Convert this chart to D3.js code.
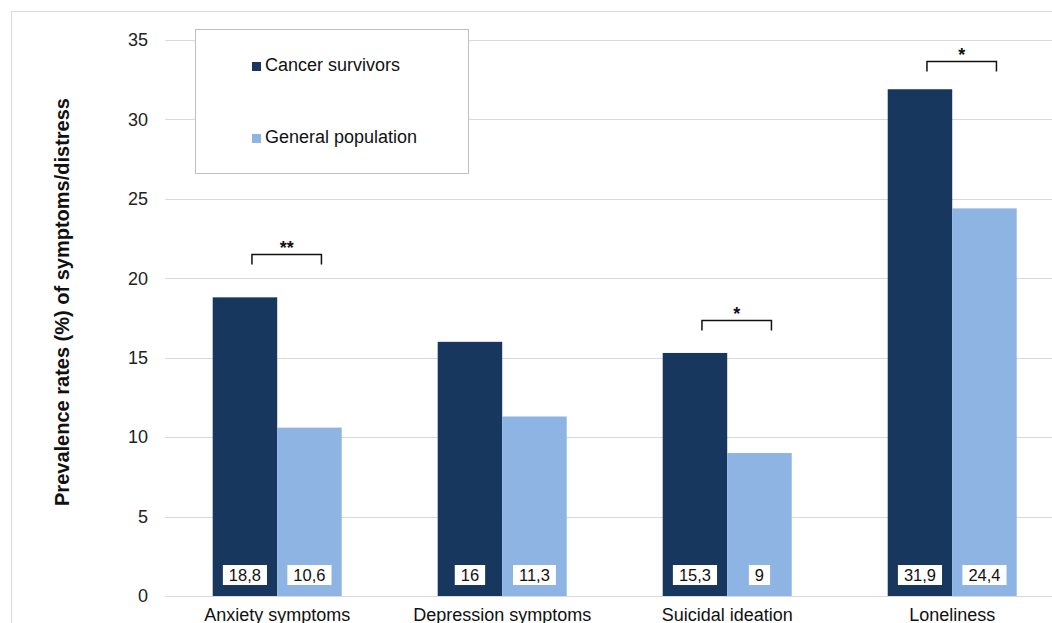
<!DOCTYPE html>
<html>
<head>
<meta charset="utf-8">
<script src="https://cdn.jsdelivr.net/npm/d3@7/dist/d3.min.js"></script>
<style>
  html, body { margin: 0; padding: 0; background: #fff; }
  svg { display: block; font-family: "Liberation Sans", Arial, sans-serif; }
</style>
</head>
<body>
<svg id="chart" width="1052" height="623"></svg>
<script>
// Prevalence of symptoms/distress: cancer survivors vs. general population
const categories = ["Anxiety symptoms", "Depression symptoms", "Suicidal ideation", "Loneliness"];
const survivors = [18.8, 16, 15.3, 31.9];
const generalPop = [10.6, 11.3, 9, 24.4];
const seriesNames = ["Cancer survivors", "General population"];
const significance = ["**", "", "*", "*"];
const bracketLevels = [21.5, null, 17.4, 33.7];
const yTicks = [0, 5, 10, 15, 20, 25, 30, 35];

const colors = ["#17375E", "#8DB4E2"];
const gridColor = "#d9d9d9";

const svg = d3.select("#chart");

// outer frame
svg.append("rect")
  .attr("x", 11.5).attr("y", 11.5)
  .attr("width", 1060).attr("height", 640)
  .attr("fill", "none").attr("stroke", "#d9d9d9");

const plot = { left: 164.7, right: 1064.7, top: 40, bottom: 596 };

const y = d3.scaleLinear().domain([0, 35]).range([plot.bottom, plot.top]);
const x0 = d3.scaleBand().domain(categories)
  .range([plot.left, plot.right]).paddingInner(0.4267).paddingOuter(0.2133);
const x1 = d3.scaleBand().domain(seriesNames).range([0, x0.bandwidth()]);

// gridlines
svg.append("g").selectAll("line").data(yTicks).join("line")
  .attr("x1", 165).attr("x2", 1060)
  .attr("y1", d => Math.round(y(d)) + 0.5).attr("y2", d => Math.round(y(d)) + 0.5)
  .attr("stroke", gridColor).attr("stroke-width", 1);

// y axis tick labels
const yAxis = d3.axisLeft(y).tickValues(yTicks).tickSize(0).tickPadding(0);
const gy = svg.append("g").attr("transform", "translate(148,0)").call(yAxis);
gy.select(".domain").remove();
gy.selectAll("text").attr("font-size", 18).attr("fill", "#222")
  .attr("font-family", "Liberation Sans, Arial, sans-serif");

// y axis title
svg.append("text")
  .attr("transform", "translate(69,302) rotate(-90)")
  .attr("text-anchor", "middle")
  .attr("font-size", 20).attr("font-weight", "bold").attr("fill", "#111")
  .text("Prevalence rates (%) of symptoms/distress");

// bars
const rows = categories.map((c, i) => ({
  cat: c, vals: [survivors[i], generalPop[i]], sig: significance[i], level: bracketLevels[i]
}));

const groups = svg.append("g").selectAll("g").data(rows).join("g")
  .attr("transform", d => `translate(${x0(d.cat)},0)`);

groups.selectAll("rect.bar").data(d => d.vals.map((v, j) => ({ v, s: seriesNames[j], j })))
  .join("rect").attr("class", "bar")
  .attr("x", d => x1(d.s)).attr("width", x1.bandwidth())
  .attr("y", d => y(d.v)).attr("height", d => y(0) - y(d.v))
  .attr("fill", d => colors[d.j]);

// value labels in white boxes near the base of each bar
const fmt = v => String(v).replace(".", ",");
groups.each(function (d) {
  const g = d3.select(this);
  d.vals.forEach((v, j) => {
    const cx = x1(seriesNames[j]) + x1.bandwidth() / 2;
    const t = g.append("text")
      .attr("x", cx).attr("y", 581)
      .attr("text-anchor", "middle").attr("font-size", 16.5).attr("fill", "#111")
      .text(fmt(v));
    const w = t.node().getComputedTextLength();
    g.insert("rect", "text")
      .attr("x", cx - w / 2 - 6).attr("y", 565)
      .attr("width", w + 12).attr("height", 20)
      .attr("fill", "#fff");
  });
});

// significance brackets
groups.filter(d => d.sig).each(function (d) {
  const g = d3.select(this);
  const by = Math.round(y(d.level)) + 0.5;
  const xa = x1(seriesNames[0]) + x1.bandwidth() / 2 + 7;
  const xb = x1(seriesNames[1]) + x1.bandwidth() / 2 + 12;
  g.append("path")
    .attr("d", `M${xa},${by + 10}V${by}H${xb}V${by + 10}`)
    .attr("fill", "none").attr("stroke", "#111").attr("stroke-width", 1.5);
  g.append("text")
    .attr("x", (xa + xb) / 2).attr("y", by - 1)
    .attr("text-anchor", "middle").attr("font-size", 18).attr("font-weight", "bold")
    .attr("fill", "#111").text(d.sig);
});

// category labels
svg.append("g").selectAll("text").data(categories).join("text")
  .attr("x", d => x0(d) + x0.bandwidth() / 2).attr("y", 621)
  .attr("text-anchor", "middle").attr("font-size", 18).attr("fill", "#111")
  .text(d => d);

// legend
const legend = svg.append("g");
legend.append("rect")
  .attr("x", 195.5).attr("y", 29.5).attr("width", 273).attr("height", 144)
  .attr("fill", "#fff").attr("stroke", "#bfbfbf");
seriesNames.forEach((name, j) => {
  const ly = 62 + j * 72;
  legend.append("rect")
    .attr("x", 252).attr("y", ly).attr("width", 9).attr("height", 9)
    .attr("fill", colors[j]);
  legend.append("text")
    .attr("x", 265).attr("y", ly + 9)
    .attr("font-size", 18).attr("fill", "#111")
    .text(name);
});
</script>
</body>
</html>
